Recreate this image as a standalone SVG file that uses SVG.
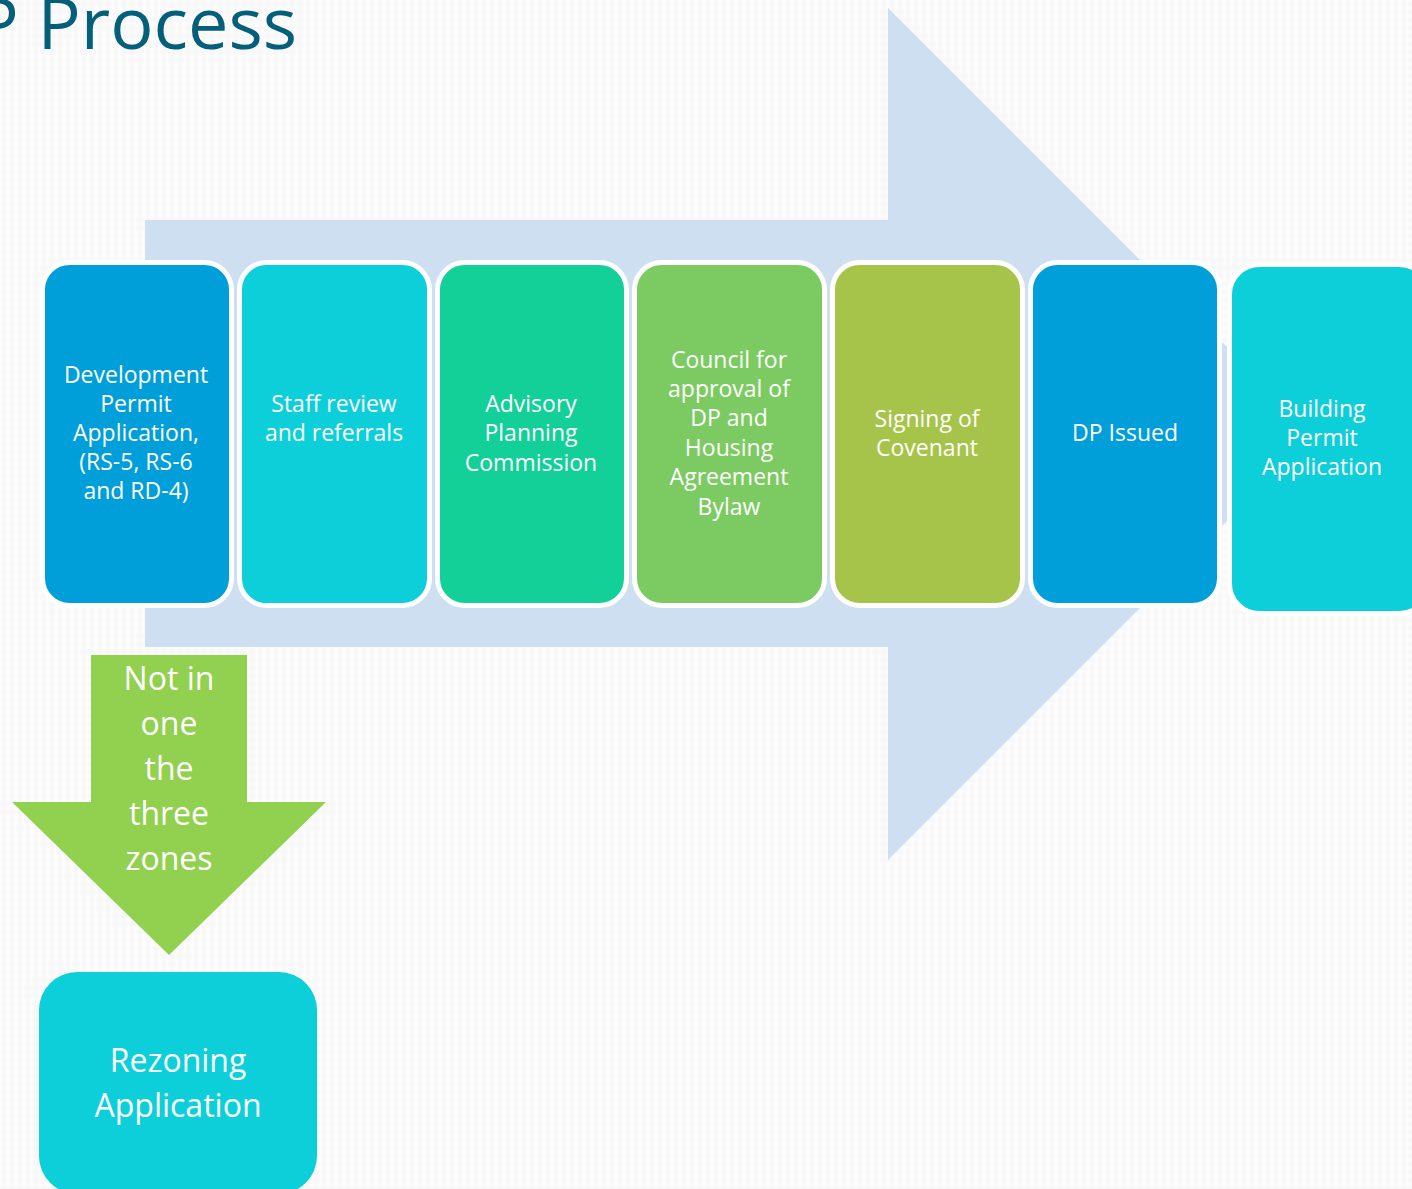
<svg xmlns="http://www.w3.org/2000/svg" width="1412" height="1189" viewBox="0 0 1412 1189">
  <defs>
    <pattern id="weave" width="8" height="8" patternUnits="userSpaceOnUse">
      <rect width="8" height="8" fill="#fcfcfc"/>
      <path d="M0 4 L4 0 L8 4 L4 8 Z" fill="#f7f7f7"/>
    </pattern>
    <style>
      .step { stroke: #ffffff; stroke-width: 5; }
      .lbl { font-family: "Open Sans", "Liberation Sans", sans-serif; fill: #ffffff; text-anchor: middle; }
      .small { font-size: 23px; }
      .big { font-size: 32px; }
      .title { font-family: "Open Sans", "Liberation Sans", sans-serif; font-size: 72px; fill: #045f7b; text-anchor: end; }
    </style>
  </defs>

  <!-- page background -->
  <rect width="1412" height="1189" fill="url(#weave)"/>

  <text class="title" x="297" y="49">P Process</text>

  <!-- wide process arrow behind the steps -->
  <g id="process-arrow">
    <path d="M145 220 H888 V8 L1314 434 L888 860 V647 H145 Z" fill="#cddff0"/>
  </g>

  <g id="connectors">
    <!-- branch arrow down to rezoning -->
    <g id="branch-arrow">
      <path d="M91 655 H247 V802 H326 L169 955 L12 802 H91 Z" fill="#92d050"/>
      <text class="lbl big" x="169" y="690">Not in</text>
      <text class="lbl big" x="169" y="735">one</text>
      <text class="lbl big" x="169" y="780">the</text>
      <text class="lbl big" x="169" y="825">three</text>
      <text class="lbl big" x="169" y="870">zones</text>
    </g>
  </g>

  <g id="step-dp-application">
    <rect class="step" x="42.5" y="262.5" width="189" height="343" rx="27" fill="#009fd9"/>
    <text class="lbl small" x="136" y="383">Development</text>
    <text class="lbl small" x="136" y="412">Permit</text>
    <text class="lbl small" x="136" y="441">Application,</text>
    <text class="lbl small" x="136" y="470">(RS-5, RS-6</text>
    <text class="lbl small" x="136" y="499">and RD-4)</text>
  </g>

  <g id="step-staff-review">
    <rect class="step" x="239.5" y="262.5" width="190" height="343" rx="27" fill="#0ccfd9"/>
    <text class="lbl small" x="334" y="412">Staff review</text>
    <text class="lbl small" x="334" y="441">and referrals</text>
  </g>

  <g id="step-apc">
    <rect class="step" x="437.5" y="262.5" width="189" height="343" rx="27" fill="#12d098"/>
    <text class="lbl small" x="531" y="412">Advisory</text>
    <text class="lbl small" x="531" y="441">Planning</text>
    <text class="lbl small" x="531" y="471">Commission</text>
  </g>

  <g id="step-council">
    <rect class="step" x="634.5" y="262.5" width="190" height="343" rx="27" fill="#7ccb62"/>
    <text class="lbl small" x="729" y="368">Council for</text>
    <text class="lbl small" x="729" y="397">approval of</text>
    <text class="lbl small" x="729" y="426">DP and</text>
    <text class="lbl small" x="729" y="456">Housing</text>
    <text class="lbl small" x="729" y="485">Agreement</text>
    <text class="lbl small" x="729" y="515">Bylaw</text>
  </g>

  <g id="step-covenant">
    <rect class="step" x="832.5" y="262.5" width="190" height="343" rx="27" fill="#a7c44a"/>
    <text class="lbl small" x="927" y="427">Signing of</text>
    <text class="lbl small" x="927" y="456">Covenant</text>
  </g>

  <g id="step-dp-issued">
    <rect class="step" x="1030.5" y="262.5" width="189" height="343" rx="27" fill="#009fd9"/>
    <text class="lbl small" x="1125" y="441">DP Issued</text>
  </g>

  <g id="step-building-permit">
    <rect class="step" x="1229.5" y="264.5" width="200" height="349" rx="30" fill="#0ccfd9"/>
    <text class="lbl small" x="1322" y="417">Building</text>
    <text class="lbl small" x="1322" y="446">Permit</text>
    <text class="lbl small" x="1322" y="475">Application</text>
  </g>

  <g id="rezoning-application">
    <rect x="39" y="972" width="278" height="222" rx="38" fill="#0ccfd9"/>
    <text class="lbl big" x="178" y="1072">Rezoning</text>
    <text class="lbl big" x="178" y="1117">Application</text>
  </g>
</svg>
